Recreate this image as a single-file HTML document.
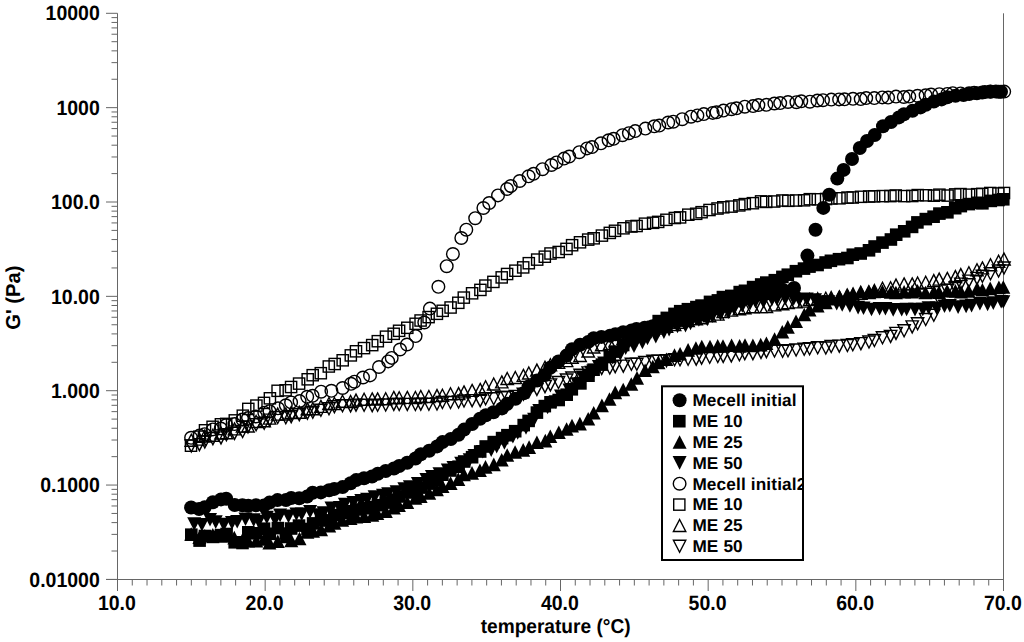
<!DOCTYPE html>
<html><head><meta charset="utf-8"><style>
html,body{margin:0;padding:0;background:#fff;}
svg{display:block;}
</style></head><body>
<svg width="1024" height="642" viewBox="0 0 1024 642">
<rect width="1024" height="642" fill="#fff"/>
<g stroke="#666" stroke-width="1"><line x1="117.5" y1="13.3" x2="117.5" y2="580" /><line x1="1003.5" y1="13.3" x2="1003.5" y2="580" /><line x1="106" y1="579.5" x2="1004" y2="579.5" /><line x1="106" y1="579.40" x2="117.5" y2="579.40" /><line x1="111.5" y1="551.00" x2="117.5" y2="551.00" /><line x1="111.5" y1="534.38" x2="117.5" y2="534.38" /><line x1="111.5" y1="522.60" x2="117.5" y2="522.60" /><line x1="111.5" y1="513.45" x2="117.5" y2="513.45" /><line x1="111.5" y1="505.98" x2="117.5" y2="505.98" /><line x1="111.5" y1="499.66" x2="117.5" y2="499.66" /><line x1="111.5" y1="494.19" x2="117.5" y2="494.19" /><line x1="111.5" y1="489.37" x2="117.5" y2="489.37" /><line x1="106" y1="485.05" x2="117.5" y2="485.05" /><line x1="111.5" y1="456.65" x2="117.5" y2="456.65" /><line x1="111.5" y1="440.03" x2="117.5" y2="440.03" /><line x1="111.5" y1="428.25" x2="117.5" y2="428.25" /><line x1="111.5" y1="419.10" x2="117.5" y2="419.10" /><line x1="111.5" y1="411.63" x2="117.5" y2="411.63" /><line x1="111.5" y1="405.31" x2="117.5" y2="405.31" /><line x1="111.5" y1="399.84" x2="117.5" y2="399.84" /><line x1="111.5" y1="395.02" x2="117.5" y2="395.02" /><line x1="106" y1="390.70" x2="117.5" y2="390.70" /><line x1="111.5" y1="362.30" x2="117.5" y2="362.30" /><line x1="111.5" y1="345.68" x2="117.5" y2="345.68" /><line x1="111.5" y1="333.90" x2="117.5" y2="333.90" /><line x1="111.5" y1="324.75" x2="117.5" y2="324.75" /><line x1="111.5" y1="317.28" x2="117.5" y2="317.28" /><line x1="111.5" y1="310.96" x2="117.5" y2="310.96" /><line x1="111.5" y1="305.49" x2="117.5" y2="305.49" /><line x1="111.5" y1="300.67" x2="117.5" y2="300.67" /><line x1="106" y1="296.35" x2="117.5" y2="296.35" /><line x1="111.5" y1="267.95" x2="117.5" y2="267.95" /><line x1="111.5" y1="251.33" x2="117.5" y2="251.33" /><line x1="111.5" y1="239.55" x2="117.5" y2="239.55" /><line x1="111.5" y1="230.40" x2="117.5" y2="230.40" /><line x1="111.5" y1="222.93" x2="117.5" y2="222.93" /><line x1="111.5" y1="216.61" x2="117.5" y2="216.61" /><line x1="111.5" y1="211.14" x2="117.5" y2="211.14" /><line x1="111.5" y1="206.32" x2="117.5" y2="206.32" /><line x1="106" y1="202.00" x2="117.5" y2="202.00" /><line x1="111.5" y1="173.60" x2="117.5" y2="173.60" /><line x1="111.5" y1="156.98" x2="117.5" y2="156.98" /><line x1="111.5" y1="145.20" x2="117.5" y2="145.20" /><line x1="111.5" y1="136.05" x2="117.5" y2="136.05" /><line x1="111.5" y1="128.58" x2="117.5" y2="128.58" /><line x1="111.5" y1="122.26" x2="117.5" y2="122.26" /><line x1="111.5" y1="116.79" x2="117.5" y2="116.79" /><line x1="111.5" y1="111.97" x2="117.5" y2="111.97" /><line x1="106" y1="107.65" x2="117.5" y2="107.65" /><line x1="111.5" y1="79.25" x2="117.5" y2="79.25" /><line x1="111.5" y1="62.63" x2="117.5" y2="62.63" /><line x1="111.5" y1="50.85" x2="117.5" y2="50.85" /><line x1="111.5" y1="41.70" x2="117.5" y2="41.70" /><line x1="111.5" y1="34.23" x2="117.5" y2="34.23" /><line x1="111.5" y1="27.91" x2="117.5" y2="27.91" /><line x1="111.5" y1="22.44" x2="117.5" y2="22.44" /><line x1="111.5" y1="17.62" x2="117.5" y2="17.62" /><line x1="106" y1="13.30" x2="117.5" y2="13.30" /><line x1="117.50" y1="579.5" x2="117.50" y2="591" /><line x1="132.27" y1="579.5" x2="132.27" y2="585.5" /><line x1="147.03" y1="579.5" x2="147.03" y2="585.5" /><line x1="161.80" y1="579.5" x2="161.80" y2="585.5" /><line x1="176.57" y1="579.5" x2="176.57" y2="585.5" /><line x1="191.33" y1="579.5" x2="191.33" y2="585.5" /><line x1="206.10" y1="579.5" x2="206.10" y2="585.5" /><line x1="220.87" y1="579.5" x2="220.87" y2="585.5" /><line x1="235.63" y1="579.5" x2="235.63" y2="585.5" /><line x1="250.40" y1="579.5" x2="250.40" y2="585.5" /><line x1="265.17" y1="579.5" x2="265.17" y2="591" /><line x1="279.93" y1="579.5" x2="279.93" y2="585.5" /><line x1="294.70" y1="579.5" x2="294.70" y2="585.5" /><line x1="309.47" y1="579.5" x2="309.47" y2="585.5" /><line x1="324.23" y1="579.5" x2="324.23" y2="585.5" /><line x1="339.00" y1="579.5" x2="339.00" y2="585.5" /><line x1="353.77" y1="579.5" x2="353.77" y2="585.5" /><line x1="368.53" y1="579.5" x2="368.53" y2="585.5" /><line x1="383.30" y1="579.5" x2="383.30" y2="585.5" /><line x1="398.07" y1="579.5" x2="398.07" y2="585.5" /><line x1="412.83" y1="579.5" x2="412.83" y2="591" /><line x1="427.60" y1="579.5" x2="427.60" y2="585.5" /><line x1="442.37" y1="579.5" x2="442.37" y2="585.5" /><line x1="457.13" y1="579.5" x2="457.13" y2="585.5" /><line x1="471.90" y1="579.5" x2="471.90" y2="585.5" /><line x1="486.67" y1="579.5" x2="486.67" y2="585.5" /><line x1="501.43" y1="579.5" x2="501.43" y2="585.5" /><line x1="516.20" y1="579.5" x2="516.20" y2="585.5" /><line x1="530.97" y1="579.5" x2="530.97" y2="585.5" /><line x1="545.73" y1="579.5" x2="545.73" y2="585.5" /><line x1="560.50" y1="579.5" x2="560.50" y2="591" /><line x1="575.27" y1="579.5" x2="575.27" y2="585.5" /><line x1="590.03" y1="579.5" x2="590.03" y2="585.5" /><line x1="604.80" y1="579.5" x2="604.80" y2="585.5" /><line x1="619.57" y1="579.5" x2="619.57" y2="585.5" /><line x1="634.33" y1="579.5" x2="634.33" y2="585.5" /><line x1="649.10" y1="579.5" x2="649.10" y2="585.5" /><line x1="663.87" y1="579.5" x2="663.87" y2="585.5" /><line x1="678.63" y1="579.5" x2="678.63" y2="585.5" /><line x1="693.40" y1="579.5" x2="693.40" y2="585.5" /><line x1="708.17" y1="579.5" x2="708.17" y2="591" /><line x1="722.93" y1="579.5" x2="722.93" y2="585.5" /><line x1="737.70" y1="579.5" x2="737.70" y2="585.5" /><line x1="752.47" y1="579.5" x2="752.47" y2="585.5" /><line x1="767.23" y1="579.5" x2="767.23" y2="585.5" /><line x1="782.00" y1="579.5" x2="782.00" y2="585.5" /><line x1="796.77" y1="579.5" x2="796.77" y2="585.5" /><line x1="811.53" y1="579.5" x2="811.53" y2="585.5" /><line x1="826.30" y1="579.5" x2="826.30" y2="585.5" /><line x1="841.07" y1="579.5" x2="841.07" y2="585.5" /><line x1="855.83" y1="579.5" x2="855.83" y2="591" /><line x1="870.60" y1="579.5" x2="870.60" y2="585.5" /><line x1="885.37" y1="579.5" x2="885.37" y2="585.5" /><line x1="900.13" y1="579.5" x2="900.13" y2="585.5" /><line x1="914.90" y1="579.5" x2="914.90" y2="585.5" /><line x1="929.67" y1="579.5" x2="929.67" y2="585.5" /><line x1="944.43" y1="579.5" x2="944.43" y2="585.5" /><line x1="959.20" y1="579.5" x2="959.20" y2="585.5" /><line x1="973.97" y1="579.5" x2="973.97" y2="585.5" /><line x1="988.73" y1="579.5" x2="988.73" y2="585.5" /><line x1="1003.50" y1="579.5" x2="1003.50" y2="591" /></g>
<g fill="#000"><circle cx="191.1" cy="507.5" r="7.0"/><circle cx="199.1" cy="509.1" r="7.0"/><circle cx="204.7" cy="507.3" r="7.0"/><circle cx="212.9" cy="502.2" r="7.0"/><circle cx="221.0" cy="499.4" r="7.0"/><circle cx="226.2" cy="498.7" r="7.0"/><circle cx="234.7" cy="505.0" r="7.0"/><circle cx="242.4" cy="505.2" r="7.0"/><circle cx="248.3" cy="505.7" r="7.0"/><circle cx="256.0" cy="505.2" r="7.0"/><circle cx="263.9" cy="505.6" r="7.0"/><circle cx="269.5" cy="502.6" r="7.0"/><circle cx="277.5" cy="500.1" r="7.0"/><circle cx="286.0" cy="500.0" r="7.0"/><circle cx="291.2" cy="498.0" r="7.0"/><circle cx="299.2" cy="498.3" r="7.0"/><circle cx="307.1" cy="496.6" r="7.0"/><circle cx="312.6" cy="492.8" r="7.0"/><circle cx="320.9" cy="492.4" r="7.0"/><circle cx="329.1" cy="490.2" r="7.0"/><circle cx="334.3" cy="488.9" r="7.0"/><circle cx="342.6" cy="487.1" r="7.0"/><circle cx="350.6" cy="483.3" r="7.0"/><circle cx="356.2" cy="480.1" r="7.0"/><circle cx="364.0" cy="478.2" r="7.0"/><circle cx="372.0" cy="476.5" r="7.0"/><circle cx="377.8" cy="473.7" r="7.0"/><circle cx="385.7" cy="471.0" r="7.0"/><circle cx="393.9" cy="468.5" r="7.0"/><circle cx="399.2" cy="466.0" r="7.0"/><circle cx="407.2" cy="462.8" r="7.0"/><circle cx="415.5" cy="458.5" r="7.0"/><circle cx="420.8" cy="454.3" r="7.0"/><circle cx="429.2" cy="450.7" r="7.0"/><circle cx="437.1" cy="446.4" r="7.0"/><circle cx="442.5" cy="442.1" r="7.0"/><circle cx="450.8" cy="439.0" r="7.0"/><circle cx="458.5" cy="434.7" r="7.0"/><circle cx="464.1" cy="429.6" r="7.0"/><circle cx="472.1" cy="424.0" r="7.0"/><circle cx="480.0" cy="418.8" r="7.0"/><circle cx="485.8" cy="415.2" r="7.0"/><circle cx="493.5" cy="412.2" r="7.0"/><circle cx="502.0" cy="408.4" r="7.0"/><circle cx="507.2" cy="403.7" r="7.0"/><circle cx="515.5" cy="398.7" r="7.0"/><circle cx="523.6" cy="393.3" r="7.0"/><circle cx="528.7" cy="386.5" r="7.0"/><circle cx="537.1" cy="380.5" r="7.0"/><circle cx="544.8" cy="375.0" r="7.0"/><circle cx="550.2" cy="367.8" r="7.0"/><circle cx="558.5" cy="361.5" r="7.0"/><circle cx="566.5" cy="355.6" r="7.0"/><circle cx="572.0" cy="349.3" r="7.0"/><circle cx="580.1" cy="344.8" r="7.0"/><circle cx="588.3" cy="341.9" r="7.0"/><circle cx="593.7" cy="338.2" r="7.0"/><circle cx="601.4" cy="336.9" r="7.0"/><circle cx="610.0" cy="335.7" r="7.0"/><circle cx="615.4" cy="334.2" r="7.0"/><circle cx="623.2" cy="332.2" r="7.0"/><circle cx="631.5" cy="330.4" r="7.0"/><circle cx="636.5" cy="328.9" r="7.0"/><circle cx="644.7" cy="327.7" r="7.0"/><circle cx="652.7" cy="326.3" r="7.0"/><circle cx="658.2" cy="324.2" r="7.0"/><circle cx="666.4" cy="322.6" r="7.0"/><circle cx="674.8" cy="320.7" r="7.0"/><circle cx="679.8" cy="319.7" r="7.0"/><circle cx="688.0" cy="317.6" r="7.0"/><circle cx="696.0" cy="316.0" r="7.0"/><circle cx="701.9" cy="314.5" r="7.0"/><circle cx="709.7" cy="311.5" r="7.0"/><circle cx="717.6" cy="308.4" r="7.0"/><circle cx="723.1" cy="306.1" r="7.0"/><circle cx="731.1" cy="304.1" r="7.0"/><circle cx="739.7" cy="300.6" r="7.0"/><circle cx="744.6" cy="298.6" r="7.0"/><circle cx="752.6" cy="296.4" r="7.0"/><circle cx="761.3" cy="294.8" r="7.0"/><circle cx="766.5" cy="293.5" r="7.0"/><circle cx="774.4" cy="291.3" r="7.0"/><circle cx="782.8" cy="289.8" r="7.0"/><circle cx="794.0" cy="288.0" r="7.0"/><circle cx="807.4" cy="255.6" r="7.0"/><circle cx="815.5" cy="229.8" r="7.0"/><circle cx="823.3" cy="207.9" r="7.0"/><circle cx="829.2" cy="194.8" r="7.0"/><circle cx="837.3" cy="178.6" r="7.0"/><circle cx="843.6" cy="169.9" r="7.0"/><circle cx="852.0" cy="159.0" r="7.0"/><circle cx="859.8" cy="148.0" r="7.0"/><circle cx="867.0" cy="141.0" r="7.0"/><circle cx="874.7" cy="135.0" r="7.0"/><circle cx="883.0" cy="126.2" r="7.0"/><circle cx="891.0" cy="122.0" r="7.0"/><circle cx="898.9" cy="117.4" r="7.0"/><circle cx="903.9" cy="114.3" r="7.0"/><circle cx="912.5" cy="110.8" r="7.0"/><circle cx="920.5" cy="107.4" r="7.0"/><circle cx="925.8" cy="104.8" r="7.0"/><circle cx="933.8" cy="101.6" r="7.0"/><circle cx="941.6" cy="99.4" r="7.0"/><circle cx="947.2" cy="97.2" r="7.0"/><circle cx="955.5" cy="95.8" r="7.0"/><circle cx="963.5" cy="95.1" r="7.0"/><circle cx="969.2" cy="94.0" r="7.0"/><circle cx="976.9" cy="93.3" r="7.0"/><circle cx="984.9" cy="92.0" r="7.0"/><circle cx="990.3" cy="91.6" r="7.0"/><circle cx="998.8" cy="91.8" r="7.0"/><circle cx="1001.0" cy="91.8" r="7.0"/><rect x="185.0" y="528.4" width="12.6" height="12.6"/><rect x="193.3" y="534.3" width="12.6" height="12.6"/><rect x="198.6" y="529.7" width="12.6" height="12.6"/><rect x="206.8" y="530.6" width="12.6" height="12.6"/><rect x="214.7" y="528.8" width="12.6" height="12.6"/><rect x="220.3" y="527.7" width="12.6" height="12.6"/><rect x="228.4" y="536.0" width="12.6" height="12.6"/><rect x="236.2" y="536.7" width="12.6" height="12.6"/><rect x="242.0" y="526.0" width="12.6" height="12.6"/><rect x="249.6" y="527.0" width="12.6" height="12.6"/><rect x="257.7" y="522.4" width="12.6" height="12.6"/><rect x="263.5" y="527.5" width="12.6" height="12.6"/><rect x="271.6" y="521.8" width="12.6" height="12.6"/><rect x="279.6" y="527.3" width="12.6" height="12.6"/><rect x="284.9" y="522.2" width="12.6" height="12.6"/><rect x="292.7" y="519.3" width="12.6" height="12.6"/><rect x="301.2" y="522.7" width="12.6" height="12.6"/><rect x="306.8" y="517.1" width="12.6" height="12.6"/><rect x="314.8" y="513.9" width="12.6" height="12.6"/><rect x="322.5" y="514.1" width="12.6" height="12.6"/><rect x="328.0" y="508.8" width="12.6" height="12.6"/><rect x="336.3" y="506.6" width="12.6" height="12.6"/><rect x="344.3" y="505.0" width="12.6" height="12.6"/><rect x="349.9" y="503.2" width="12.6" height="12.6"/><rect x="357.8" y="502.0" width="12.6" height="12.6"/><rect x="366.1" y="500.8" width="12.6" height="12.6"/><rect x="371.6" y="498.9" width="12.6" height="12.6"/><rect x="379.4" y="496.3" width="12.6" height="12.6"/><rect x="387.2" y="493.4" width="12.6" height="12.6"/><rect x="392.7" y="490.2" width="12.6" height="12.6"/><rect x="401.2" y="486.2" width="12.6" height="12.6"/><rect x="409.1" y="483.4" width="12.6" height="12.6"/><rect x="414.5" y="481.3" width="12.6" height="12.6"/><rect x="422.6" y="477.3" width="12.6" height="12.6"/><rect x="430.9" y="473.7" width="12.6" height="12.6"/><rect x="436.1" y="468.4" width="12.6" height="12.6"/><rect x="444.1" y="464.2" width="12.6" height="12.6"/><rect x="452.3" y="460.4" width="12.6" height="12.6"/><rect x="457.9" y="455.2" width="12.6" height="12.6"/><rect x="465.8" y="450.9" width="12.6" height="12.6"/><rect x="473.9" y="445.2" width="12.6" height="12.6"/><rect x="479.4" y="440.2" width="12.6" height="12.6"/><rect x="487.4" y="435.8" width="12.6" height="12.6"/><rect x="495.8" y="431.8" width="12.6" height="12.6"/><rect x="501.1" y="428.9" width="12.6" height="12.6"/><rect x="508.9" y="424.9" width="12.6" height="12.6"/><rect x="517.4" y="418.8" width="12.6" height="12.6"/><rect x="522.3" y="414.6" width="12.6" height="12.6"/><rect x="530.6" y="406.3" width="12.6" height="12.6"/><rect x="538.5" y="399.8" width="12.6" height="12.6"/><rect x="544.2" y="396.0" width="12.6" height="12.6"/><rect x="552.4" y="393.7" width="12.6" height="12.6"/><rect x="560.4" y="388.4" width="12.6" height="12.6"/><rect x="565.5" y="383.0" width="12.6" height="12.6"/><rect x="574.1" y="377.1" width="12.6" height="12.6"/><rect x="582.2" y="369.4" width="12.6" height="12.6"/><rect x="587.3" y="363.4" width="12.6" height="12.6"/><rect x="595.6" y="358.3" width="12.6" height="12.6"/><rect x="603.5" y="350.6" width="12.6" height="12.6"/><rect x="608.8" y="345.3" width="12.6" height="12.6"/><rect x="616.9" y="338.7" width="12.6" height="12.6"/><rect x="624.8" y="333.8" width="12.6" height="12.6"/><rect x="630.5" y="329.2" width="12.6" height="12.6"/><rect x="638.5" y="323.8" width="12.6" height="12.6"/><rect x="646.7" y="320.6" width="12.6" height="12.6"/><rect x="652.4" y="314.8" width="12.6" height="12.6"/><rect x="660.5" y="311.6" width="12.6" height="12.6"/><rect x="668.2" y="307.6" width="12.6" height="12.6"/><rect x="673.9" y="304.9" width="12.6" height="12.6"/><rect x="681.6" y="302.9" width="12.6" height="12.6"/><rect x="690.1" y="300.8" width="12.6" height="12.6"/><rect x="695.2" y="299.3" width="12.6" height="12.6"/><rect x="703.7" y="295.6" width="12.6" height="12.6"/><rect x="711.6" y="294.1" width="12.6" height="12.6"/><rect x="716.6" y="290.8" width="12.6" height="12.6"/><rect x="725.0" y="289.6" width="12.6" height="12.6"/><rect x="733.4" y="285.8" width="12.6" height="12.6"/><rect x="738.7" y="284.5" width="12.6" height="12.6"/><rect x="746.8" y="280.8" width="12.6" height="12.6"/><rect x="754.9" y="278.2" width="12.6" height="12.6"/><rect x="760.0" y="276.3" width="12.6" height="12.6"/><rect x="768.5" y="273.9" width="12.6" height="12.6"/><rect x="776.1" y="270.6" width="12.6" height="12.6"/><rect x="781.5" y="268.4" width="12.6" height="12.6"/><rect x="789.6" y="264.9" width="12.6" height="12.6"/><rect x="797.7" y="262.3" width="12.6" height="12.6"/><rect x="803.2" y="260.3" width="12.6" height="12.6"/><rect x="811.3" y="258.7" width="12.6" height="12.6"/><rect x="819.3" y="256.2" width="12.6" height="12.6"/><rect x="824.6" y="254.5" width="12.6" height="12.6"/><rect x="832.7" y="252.9" width="12.6" height="12.6"/><rect x="841.1" y="251.7" width="12.6" height="12.6"/><rect x="846.5" y="248.4" width="12.6" height="12.6"/><rect x="854.4" y="247.2" width="12.6" height="12.6"/><rect x="862.7" y="244.0" width="12.6" height="12.6"/><rect x="868.3" y="240.2" width="12.6" height="12.6"/><rect x="876.2" y="236.3" width="12.6" height="12.6"/><rect x="884.6" y="233.2" width="12.6" height="12.6"/><rect x="889.9" y="228.4" width="12.6" height="12.6"/><rect x="897.9" y="225.0" width="12.6" height="12.6"/><rect x="905.8" y="220.6" width="12.6" height="12.6"/><rect x="911.1" y="216.1" width="12.6" height="12.6"/><rect x="919.5" y="212.8" width="12.6" height="12.6"/><rect x="927.3" y="210.4" width="12.6" height="12.6"/><rect x="933.1" y="207.3" width="12.6" height="12.6"/><rect x="941.1" y="206.0" width="12.6" height="12.6"/><rect x="948.9" y="201.9" width="12.6" height="12.6"/><rect x="954.5" y="199.8" width="12.6" height="12.6"/><rect x="962.6" y="197.8" width="12.6" height="12.6"/><rect x="971.0" y="196.5" width="12.6" height="12.6"/><rect x="976.1" y="197.0" width="12.6" height="12.6"/><rect x="984.5" y="194.6" width="12.6" height="12.6"/><rect x="992.2" y="193.7" width="12.6" height="12.6"/><rect x="997.0" y="193.0" width="12.6" height="12.6"/><polygon points="191.2,527.2 198.2,540.8 184.2,540.8"/><polygon points="199.4,530.4 206.4,544.0 192.4,544.0"/><polygon points="204.8,529.0 211.8,542.6 197.8,542.6"/><polygon points="212.8,528.1 219.8,541.7 205.8,541.7"/><polygon points="220.9,528.9 227.9,542.5 213.9,542.5"/><polygon points="226.1,528.9 233.1,542.5 219.1,542.5"/><polygon points="234.3,530.8 241.3,544.4 227.3,544.4"/><polygon points="242.6,532.8 249.6,546.4 235.6,546.4"/><polygon points="248.1,533.9 255.1,547.5 241.1,547.5"/><polygon points="256.3,533.9 263.3,547.5 249.3,547.5"/><polygon points="264.1,532.1 271.1,545.7 257.1,545.7"/><polygon points="269.4,535.9 276.4,549.5 262.4,549.5"/><polygon points="277.8,534.5 284.8,548.1 270.8,548.1"/><polygon points="286.0,529.7 293.0,543.3 279.0,543.3"/><polygon points="291.3,533.7 298.3,547.3 284.3,547.3"/><polygon points="299.5,531.7 306.5,545.3 292.5,545.3"/><polygon points="307.4,525.1 314.4,538.7 300.4,538.7"/><polygon points="313.0,524.1 320.0,537.7 306.0,537.7"/><polygon points="321.1,522.7 328.1,536.3 314.1,536.3"/><polygon points="329.2,518.9 336.2,532.5 322.2,532.5"/><polygon points="334.5,516.2 341.5,529.8 327.5,529.8"/><polygon points="342.2,513.2 349.2,526.8 335.2,526.8"/><polygon points="350.5,511.5 357.5,525.1 343.5,525.1"/><polygon points="356.2,510.0 363.2,523.6 349.2,523.6"/><polygon points="364.2,509.5 371.2,523.1 357.2,523.1"/><polygon points="372.3,508.2 379.3,521.8 365.3,521.8"/><polygon points="377.3,506.5 384.3,520.1 370.3,520.1"/><polygon points="385.8,504.5 392.8,518.1 378.8,518.1"/><polygon points="393.8,500.9 400.8,514.5 386.8,514.5"/><polygon points="398.9,498.3 405.9,511.9 391.9,511.9"/><polygon points="407.2,495.5 414.2,509.1 400.2,509.1"/><polygon points="415.3,491.1 422.3,504.7 408.3,504.7"/><polygon points="420.6,489.3 427.6,502.9 413.6,502.9"/><polygon points="429.2,486.2 436.2,499.8 422.2,499.8"/><polygon points="436.9,482.6 443.9,496.2 429.9,496.2"/><polygon points="442.5,479.5 449.5,493.1 435.5,493.1"/><polygon points="450.6,476.3 457.6,489.9 443.6,489.9"/><polygon points="458.3,472.3 465.3,485.9 451.3,485.9"/><polygon points="463.9,467.6 470.9,481.2 456.9,481.2"/><polygon points="472.0,466.1 479.0,479.7 465.0,479.7"/><polygon points="479.9,463.4 486.9,477.0 472.9,477.0"/><polygon points="485.5,460.1 492.5,473.7 478.5,473.7"/><polygon points="493.8,457.6 500.8,471.2 486.8,471.2"/><polygon points="501.7,453.0 508.7,466.6 494.7,466.6"/><polygon points="507.2,448.2 514.2,461.8 500.2,461.8"/><polygon points="515.1,445.2 522.1,458.8 508.1,458.8"/><polygon points="523.2,443.1 530.2,456.7 516.2,456.7"/><polygon points="529.1,440.3 536.1,453.9 522.1,453.9"/><polygon points="536.9,435.4 543.9,449.0 529.9,449.0"/><polygon points="545.3,433.8 552.3,447.4 538.3,447.4"/><polygon points="550.3,429.4 557.3,443.0 543.3,443.0"/><polygon points="558.8,425.4 565.8,439.0 551.8,439.0"/><polygon points="566.6,422.2 573.6,435.8 559.6,435.8"/><polygon points="572.0,418.8 579.0,432.4 565.0,432.4"/><polygon points="579.9,416.8 586.9,430.4 572.9,430.4"/><polygon points="588.2,411.9 595.2,425.5 581.2,425.5"/><polygon points="593.7,406.0 600.7,419.6 586.7,419.6"/><polygon points="601.9,398.6 608.9,412.2 594.9,412.2"/><polygon points="609.5,392.2 616.5,405.8 602.5,405.8"/><polygon points="615.2,385.6 622.2,399.2 608.2,399.2"/><polygon points="623.2,382.7 630.2,396.3 616.2,396.3"/><polygon points="631.3,377.2 638.3,390.8 624.3,390.8"/><polygon points="637.0,371.1 644.0,384.7 630.0,384.7"/><polygon points="645.1,363.5 652.1,377.1 638.1,377.1"/><polygon points="652.8,359.7 659.8,373.3 645.8,373.3"/><polygon points="658.5,355.7 665.5,369.3 651.5,369.3"/><polygon points="666.4,352.5 673.4,366.1 659.4,366.1"/><polygon points="674.5,348.3 681.5,361.9 667.5,361.9"/><polygon points="680.1,347.0 687.1,360.6 673.1,360.6"/><polygon points="688.1,343.1 695.1,356.7 681.1,356.7"/><polygon points="695.9,341.2 702.9,354.8 688.9,354.8"/><polygon points="701.8,339.7 708.8,353.3 694.8,353.3"/><polygon points="710.0,339.7 717.0,353.3 703.0,353.3"/><polygon points="717.7,339.1 724.7,352.7 710.7,352.7"/><polygon points="723.0,339.2 730.0,352.8 716.0,352.8"/><polygon points="731.6,338.5 738.6,352.1 724.6,352.1"/><polygon points="739.6,339.1 746.6,352.7 732.6,352.7"/><polygon points="745.0,338.2 752.0,351.8 738.0,351.8"/><polygon points="752.9,338.6 759.9,352.2 745.9,352.2"/><polygon points="760.7,337.8 767.7,351.4 753.7,351.4"/><polygon points="766.4,336.5 773.4,350.1 759.4,350.1"/><polygon points="774.6,332.2 781.6,345.8 767.6,345.8"/><polygon points="782.3,325.0 789.3,338.6 775.3,338.6"/><polygon points="787.8,320.1 794.8,333.7 780.8,333.7"/><polygon points="796.0,314.5 803.0,328.1 789.0,328.1"/><polygon points="804.3,307.7 811.3,321.3 797.3,321.3"/><polygon points="809.5,302.9 816.5,316.5 802.5,316.5"/><polygon points="817.6,299.0 824.6,312.6 810.6,312.6"/><polygon points="825.7,295.6 832.7,309.2 818.7,309.2"/><polygon points="831.0,291.8 838.0,305.4 824.0,305.4"/><polygon points="839.5,289.4 846.5,303.0 832.5,303.0"/><polygon points="847.2,287.4 854.2,301.0 840.2,301.0"/><polygon points="853.1,286.6 860.1,300.2 846.1,300.2"/><polygon points="860.7,284.7 867.7,298.3 853.7,298.3"/><polygon points="868.8,284.2 875.8,297.8 861.8,297.8"/><polygon points="874.2,284.6 881.2,298.2 867.2,298.2"/><polygon points="882.4,284.4 889.4,298.0 875.4,298.0"/><polygon points="890.8,285.2 897.8,298.8 883.8,298.8"/><polygon points="895.9,285.7 902.9,299.3 888.9,299.3"/><polygon points="904.1,285.0 911.1,298.6 897.1,298.6"/><polygon points="912.1,284.8 919.1,298.4 905.1,298.4"/><polygon points="917.5,284.0 924.5,297.6 910.5,297.6"/><polygon points="925.5,285.7 932.5,299.3 918.5,299.3"/><polygon points="933.9,284.7 940.9,298.3 926.9,298.3"/><polygon points="939.0,285.3 946.0,298.9 932.0,298.9"/><polygon points="947.1,284.0 954.1,297.6 940.1,297.6"/><polygon points="955.4,284.1 962.4,297.7 948.4,297.7"/><polygon points="961.0,285.0 968.0,298.6 954.0,298.6"/><polygon points="968.6,284.1 975.6,297.7 961.6,297.7"/><polygon points="977.1,281.8 984.1,295.4 970.1,295.4"/><polygon points="982.4,282.9 989.4,296.5 975.4,296.5"/><polygon points="990.2,281.6 997.2,295.2 983.2,295.2"/><polygon points="998.9,280.6 1005.9,294.2 991.9,294.2"/><polygon points="1003.3,280.2 1010.3,293.8 996.3,293.8"/><polygon points="187.2,517.2 201.2,517.2 194.2,530.8"/><polygon points="194.9,518.0 208.9,518.0 201.9,531.6"/><polygon points="203.0,512.9 217.0,512.9 210.0,526.5"/><polygon points="208.7,515.3 222.7,515.3 215.7,528.9"/><polygon points="216.8,517.8 230.8,517.8 223.8,531.4"/><polygon points="225.0,516.1 239.0,516.1 232.0,529.7"/><polygon points="230.2,514.9 244.2,514.9 237.2,528.5"/><polygon points="238.5,512.4 252.5,512.4 245.5,526.0"/><polygon points="246.7,513.3 260.7,513.3 253.7,526.9"/><polygon points="251.7,514.8 265.7,514.8 258.7,528.4"/><polygon points="259.8,510.7 273.8,510.7 266.8,524.3"/><polygon points="268.1,512.8 282.1,512.8 275.1,526.4"/><polygon points="273.1,508.6 287.1,508.6 280.1,522.2"/><polygon points="281.5,509.6 295.5,509.6 288.5,523.2"/><polygon points="289.4,507.4 303.4,507.4 296.4,521.0"/><polygon points="294.7,507.5 308.7,507.5 301.7,521.1"/><polygon points="303.1,505.0 317.1,505.0 310.1,518.6"/><polygon points="311.3,508.2 325.3,508.2 318.3,521.8"/><polygon points="316.6,506.3 330.6,506.3 323.6,519.9"/><polygon points="324.5,501.5 338.5,501.5 331.5,515.1"/><polygon points="332.9,501.0 346.9,501.0 339.9,514.6"/><polygon points="337.9,497.7 351.9,497.7 344.9,511.3"/><polygon points="346.4,496.1 360.4,496.1 353.4,509.7"/><polygon points="354.3,493.9 368.3,493.9 361.3,507.5"/><polygon points="360.1,492.8 374.1,492.8 367.1,506.4"/><polygon points="367.6,490.3 381.6,490.3 374.6,503.9"/><polygon points="376.0,488.8 390.0,488.8 383.0,502.4"/><polygon points="381.2,487.2 395.2,487.2 388.2,500.8"/><polygon points="389.6,485.2 403.6,485.2 396.6,498.8"/><polygon points="397.4,482.3 411.4,482.3 404.4,495.9"/><polygon points="402.9,480.3 416.9,480.3 409.9,493.9"/><polygon points="410.9,477.1 424.9,477.1 417.9,490.7"/><polygon points="419.4,473.0 433.4,473.0 426.4,486.6"/><polygon points="424.9,470.1 438.9,470.1 431.9,483.7"/><polygon points="432.5,467.2 446.5,467.2 439.5,480.8"/><polygon points="440.8,463.4 454.8,463.4 447.8,477.0"/><polygon points="446.5,461.0 460.5,461.0 453.5,474.6"/><polygon points="454.2,456.7 468.2,456.7 461.2,470.3"/><polygon points="462.7,453.2 476.7,453.2 469.7,466.8"/><polygon points="467.5,449.0 481.5,449.0 474.5,462.6"/><polygon points="475.8,444.9 489.8,444.9 482.8,458.5"/><polygon points="484.2,443.3 498.2,443.3 491.2,456.9"/><polygon points="489.7,439.8 503.7,439.8 496.7,453.4"/><polygon points="497.4,436.1 511.4,436.1 504.4,449.7"/><polygon points="505.9,429.8 519.9,429.8 512.9,443.4"/><polygon points="510.7,426.1 524.7,426.1 517.7,439.7"/><polygon points="519.0,421.1 533.0,421.1 526.0,434.7"/><polygon points="527.1,412.7 541.1,412.7 534.1,426.3"/><polygon points="532.3,404.1 546.3,404.1 539.3,417.7"/><polygon points="540.6,400.6 554.6,400.6 547.6,414.2"/><polygon points="548.6,395.2 562.6,395.2 555.6,408.8"/><polygon points="554.0,389.6 568.0,389.6 561.0,403.2"/><polygon points="562.5,383.5 576.5,383.5 569.5,397.1"/><polygon points="570.4,377.2 584.4,377.2 577.4,390.8"/><polygon points="575.8,370.4 589.8,370.4 582.8,384.0"/><polygon points="584.2,365.7 598.2,365.7 591.2,379.3"/><polygon points="591.9,360.0 605.9,360.0 598.9,373.6"/><polygon points="597.1,356.6 611.1,356.6 604.1,370.2"/><polygon points="605.7,351.0 619.7,351.0 612.7,364.6"/><polygon points="613.3,347.1 627.3,347.1 620.3,360.7"/><polygon points="618.7,341.3 632.7,341.3 625.7,354.9"/><polygon points="627.0,339.5 641.0,339.5 634.0,353.1"/><polygon points="635.4,335.6 649.4,335.6 642.4,349.2"/><polygon points="640.5,331.7 654.5,331.7 647.5,345.3"/><polygon points="648.8,329.8 662.8,329.8 655.8,343.4"/><polygon points="656.9,325.3 670.9,325.3 663.9,338.9"/><polygon points="662.1,322.8 676.1,322.8 669.1,336.4"/><polygon points="670.5,319.7 684.5,319.7 677.5,333.3"/><polygon points="678.5,319.0 692.5,319.0 685.5,332.6"/><polygon points="683.5,316.6 697.5,316.6 690.5,330.2"/><polygon points="691.9,313.1 705.9,313.1 698.9,326.7"/><polygon points="700.3,312.6 714.3,312.6 707.3,326.2"/><polygon points="705.3,309.4 719.3,309.4 712.3,323.0"/><polygon points="713.5,307.3 727.5,307.3 720.5,320.9"/><polygon points="721.4,305.3 735.4,305.3 728.4,318.9"/><polygon points="727.1,302.0 741.1,302.0 734.1,315.6"/><polygon points="735.3,299.1 749.3,299.1 742.3,312.7"/><polygon points="743.1,296.7 757.1,296.7 750.1,310.3"/><polygon points="748.5,295.0 762.5,295.0 755.5,308.6"/><polygon points="756.4,294.8 770.4,294.8 763.4,308.4"/><polygon points="765.0,292.6 779.0,292.6 772.0,306.2"/><polygon points="769.9,292.4 783.9,292.4 776.9,306.0"/><polygon points="778.3,291.8 792.3,291.8 785.3,305.4"/><polygon points="786.7,292.1 800.7,292.1 793.7,305.7"/><polygon points="792.1,293.0 806.1,293.0 799.1,306.6"/><polygon points="799.7,292.6 813.7,292.6 806.7,306.2"/><polygon points="808.0,293.2 822.0,293.2 815.0,306.8"/><polygon points="813.4,295.3 827.4,295.3 820.4,308.9"/><polygon points="821.5,295.2 835.5,295.2 828.5,308.8"/><polygon points="829.7,296.9 843.7,296.9 836.7,310.5"/><polygon points="835.2,298.2 849.2,298.2 842.2,311.8"/><polygon points="842.9,299.2 856.9,299.2 849.9,312.8"/><polygon points="851.1,300.8 865.1,300.8 858.1,314.4"/><polygon points="856.5,301.4 870.5,301.4 863.5,315.0"/><polygon points="864.5,302.7 878.5,302.7 871.5,316.3"/><polygon points="872.6,302.0 886.6,302.0 879.6,315.6"/><polygon points="878.4,302.0 892.4,302.0 885.4,315.6"/><polygon points="886.2,303.1 900.2,303.1 893.2,316.7"/><polygon points="894.7,303.0 908.7,303.0 901.7,316.6"/><polygon points="899.6,302.7 913.6,302.7 906.6,316.3"/><polygon points="908.0,302.8 922.0,302.8 915.0,316.4"/><polygon points="915.8,302.7 929.8,302.7 922.8,316.3"/><polygon points="921.6,301.2 935.6,301.2 928.6,314.8"/><polygon points="929.7,301.4 943.7,301.4 936.7,315.0"/><polygon points="937.5,299.4 951.5,299.4 944.5,313.0"/><polygon points="942.8,299.0 956.8,299.0 949.8,312.6"/><polygon points="951.1,300.3 965.1,300.3 958.1,313.9"/><polygon points="959.1,299.6 973.1,299.6 966.1,313.2"/><polygon points="964.6,298.8 978.6,298.8 971.6,312.4"/><polygon points="972.9,296.9 986.9,296.9 979.9,310.5"/><polygon points="980.6,297.6 994.6,297.6 987.6,311.2"/><polygon points="986.3,296.3 1000.3,296.3 993.3,309.9"/><polygon points="994.2,294.9 1008.2,294.9 1001.2,308.5"/><polygon points="996.3,295.2 1010.3,295.2 1003.3,308.8"/></g>
<g fill="none" stroke="#000" stroke-width="1.4" stroke-linejoin="miter"><circle cx="191.1" cy="437.8" r="6.30"/><circle cx="199.5" cy="435.6" r="6.30"/><circle cx="204.6" cy="434.2" r="6.30"/><circle cx="212.8" cy="429.4" r="6.30"/><circle cx="220.8" cy="428.5" r="6.30"/><circle cx="226.2" cy="425.0" r="6.30"/><circle cx="234.5" cy="424.1" r="6.30"/><circle cx="242.4" cy="419.5" r="6.30"/><circle cx="248.0" cy="418.1" r="6.30"/><circle cx="255.9" cy="416.5" r="6.30"/><circle cx="264.3" cy="412.7" r="6.30"/><circle cx="269.5" cy="411.2" r="6.30"/><circle cx="278.0" cy="408.3" r="6.30"/><circle cx="285.8" cy="405.3" r="6.30"/><circle cx="291.1" cy="402.4" r="6.30"/><circle cx="299.6" cy="401.1" r="6.30"/><circle cx="307.2" cy="396.8" r="6.30"/><circle cx="312.6" cy="395.8" r="6.30"/><circle cx="321.1" cy="391.7" r="6.30"/><circle cx="331.4" cy="390.8" r="6.30"/><circle cx="342.6" cy="388.0" r="6.30"/><circle cx="351.0" cy="383.8" r="6.30"/><circle cx="354.5" cy="381.7" r="6.30"/><circle cx="363.0" cy="377.5" r="6.30"/><circle cx="370.0" cy="375.4" r="6.30"/><circle cx="379.0" cy="367.0" r="6.30"/><circle cx="388.2" cy="361.4" r="6.30"/><circle cx="391.7" cy="357.9" r="6.30"/><circle cx="400.0" cy="349.5" r="6.30"/><circle cx="407.0" cy="344.5" r="6.30"/><circle cx="415.6" cy="336.1" r="6.30"/><circle cx="424.3" cy="322.5" r="6.30"/><circle cx="429.9" cy="308.6" r="6.30"/><circle cx="438.4" cy="286.8" r="6.30"/><circle cx="446.7" cy="266.2" r="6.30"/><circle cx="452.9" cy="254.0" r="6.30"/><circle cx="461.3" cy="238.0" r="6.30"/><circle cx="466.3" cy="229.7" r="6.30"/><circle cx="475.2" cy="218.2" r="6.30"/><circle cx="483.4" cy="208.0" r="6.30"/><circle cx="489.2" cy="203.0" r="6.30"/><circle cx="498.0" cy="195.4" r="6.30"/><circle cx="507.0" cy="189.0" r="6.30"/><circle cx="510.8" cy="186.0" r="6.30"/><circle cx="519.7" cy="181.0" r="6.30"/><circle cx="528.6" cy="176.3" r="6.30"/><circle cx="533.6" cy="173.8" r="6.30"/><circle cx="542.5" cy="169.2" r="6.30"/><circle cx="551.4" cy="165.0" r="6.30"/><circle cx="556.5" cy="162.4" r="6.30"/><circle cx="564.0" cy="158.6" r="6.30"/><circle cx="569.2" cy="156.5" r="6.30"/><circle cx="579.3" cy="152.2" r="6.30"/><circle cx="587.0" cy="148.4" r="6.30"/><circle cx="592.0" cy="147.1" r="6.30"/><circle cx="601.0" cy="143.3" r="6.30"/><circle cx="608.6" cy="140.3" r="6.30"/><circle cx="613.6" cy="138.8" r="6.30"/><circle cx="622.5" cy="135.2" r="6.30"/><circle cx="628.9" cy="133.2" r="6.30"/><circle cx="635.2" cy="131.1" r="6.30"/><circle cx="645.4" cy="128.6" r="6.30"/><circle cx="654.3" cy="126.3" r="6.30"/><circle cx="659.3" cy="125.6" r="6.30"/><circle cx="668.2" cy="122.5" r="6.30"/><circle cx="673.3" cy="121.7" r="6.30"/><circle cx="682.2" cy="119.2" r="6.30"/><circle cx="691.0" cy="116.7" r="6.30"/><circle cx="697.4" cy="115.4" r="6.30"/><circle cx="703.8" cy="114.1" r="6.30"/><circle cx="712.7" cy="112.9" r="6.30"/><circle cx="716.5" cy="112.3" r="6.30"/><circle cx="723.4" cy="110.6" r="6.30"/><circle cx="731.5" cy="109.2" r="6.30"/><circle cx="736.5" cy="108.3" r="6.30"/><circle cx="744.8" cy="106.7" r="6.30"/><circle cx="753.1" cy="106.1" r="6.30"/><circle cx="758.4" cy="105.1" r="6.30"/><circle cx="766.4" cy="104.8" r="6.30"/><circle cx="774.4" cy="103.5" r="6.30"/><circle cx="780.2" cy="103.1" r="6.30"/><circle cx="788.0" cy="102.0" r="6.30"/><circle cx="796.4" cy="102.2" r="6.30"/><circle cx="801.3" cy="101.3" r="6.30"/><circle cx="809.9" cy="101.7" r="6.30"/><circle cx="817.4" cy="100.5" r="6.30"/><circle cx="823.0" cy="100.2" r="6.30"/><circle cx="831.3" cy="99.6" r="6.30"/><circle cx="839.1" cy="99.4" r="6.30"/><circle cx="844.5" cy="99.3" r="6.30"/><circle cx="853.0" cy="98.8" r="6.30"/><circle cx="860.7" cy="99.1" r="6.30"/><circle cx="866.2" cy="98.1" r="6.30"/><circle cx="874.3" cy="98.1" r="6.30"/><circle cx="882.3" cy="97.4" r="6.30"/><circle cx="888.1" cy="97.6" r="6.30"/><circle cx="896.0" cy="96.6" r="6.30"/><circle cx="903.8" cy="97.0" r="6.30"/><circle cx="909.3" cy="96.6" r="6.30"/><circle cx="917.6" cy="95.8" r="6.30"/><circle cx="925.6" cy="95.3" r="6.30"/><circle cx="931.1" cy="94.5" r="6.30"/><circle cx="939.3" cy="94.2" r="6.30"/><circle cx="947.3" cy="93.9" r="6.30"/><circle cx="952.8" cy="93.2" r="6.30"/><circle cx="960.6" cy="93.4" r="6.30"/><circle cx="969.1" cy="93.3" r="6.30"/><circle cx="974.1" cy="92.7" r="6.30"/><circle cx="982.2" cy="92.5" r="6.30"/><circle cx="990.5" cy="91.8" r="6.30"/><circle cx="995.9" cy="91.5" r="6.30"/><circle cx="1004.2" cy="91.6" r="6.30"/><rect x="185.4" y="440.1" width="11.2" height="11.2"/><rect x="193.5" y="431.1" width="11.2" height="11.2"/><rect x="199.4" y="424.7" width="11.2" height="11.2"/><rect x="207.0" y="421.2" width="11.2" height="11.2"/><rect x="215.3" y="418.7" width="11.2" height="11.2"/><rect x="220.6" y="418.3" width="11.2" height="11.2"/><rect x="229.2" y="414.8" width="11.2" height="11.2"/><rect x="237.2" y="410.1" width="11.2" height="11.2"/><rect x="242.7" y="403.3" width="11.2" height="11.2"/><rect x="250.8" y="400.0" width="11.2" height="11.2"/><rect x="258.4" y="397.3" width="11.2" height="11.2"/><rect x="264.3" y="392.7" width="11.2" height="11.2"/><rect x="272.0" y="385.2" width="11.2" height="11.2"/><rect x="280.0" y="384.7" width="11.2" height="11.2"/><rect x="285.5" y="381.4" width="11.2" height="11.2"/><rect x="293.5" y="378.0" width="11.2" height="11.2"/><rect x="302.1" y="373.7" width="11.2" height="11.2"/><rect x="307.1" y="369.6" width="11.2" height="11.2"/><rect x="315.2" y="367.6" width="11.2" height="11.2"/><rect x="323.2" y="360.9" width="11.2" height="11.2"/><rect x="329.1" y="358.4" width="11.2" height="11.2"/><rect x="337.1" y="354.7" width="11.2" height="11.2"/><rect x="345.2" y="349.8" width="11.2" height="11.2"/><rect x="350.4" y="345.7" width="11.2" height="11.2"/><rect x="358.4" y="342.5" width="11.2" height="11.2"/><rect x="366.6" y="339.5" width="11.2" height="11.2"/><rect x="372.2" y="335.6" width="11.2" height="11.2"/><rect x="380.4" y="331.1" width="11.2" height="11.2"/><rect x="388.1" y="328.2" width="11.2" height="11.2"/><rect x="393.5" y="325.2" width="11.2" height="11.2"/><rect x="401.7" y="322.2" width="11.2" height="11.2"/><rect x="410.0" y="318.2" width="11.2" height="11.2"/><rect x="415.0" y="314.9" width="11.2" height="11.2"/><rect x="423.0" y="311.5" width="11.2" height="11.2"/><rect x="431.3" y="308.2" width="11.2" height="11.2"/><rect x="437.1" y="305.2" width="11.2" height="11.2"/><rect x="445.0" y="301.9" width="11.2" height="11.2"/><rect x="452.7" y="297.2" width="11.2" height="11.2"/><rect x="458.2" y="292.0" width="11.2" height="11.2"/><rect x="466.5" y="287.7" width="11.2" height="11.2"/><rect x="474.8" y="284.3" width="11.2" height="11.2"/><rect x="479.8" y="280.0" width="11.2" height="11.2"/><rect x="487.8" y="276.3" width="11.2" height="11.2"/><rect x="496.1" y="271.8" width="11.2" height="11.2"/><rect x="501.5" y="268.4" width="11.2" height="11.2"/><rect x="509.8" y="265.1" width="11.2" height="11.2"/><rect x="517.6" y="261.8" width="11.2" height="11.2"/><rect x="523.2" y="257.6" width="11.2" height="11.2"/><rect x="531.6" y="254.0" width="11.2" height="11.2"/><rect x="539.2" y="251.1" width="11.2" height="11.2"/><rect x="544.9" y="247.9" width="11.2" height="11.2"/><rect x="553.1" y="246.4" width="11.2" height="11.2"/><rect x="560.9" y="243.3" width="11.2" height="11.2"/><rect x="566.5" y="239.6" width="11.2" height="11.2"/><rect x="574.4" y="236.7" width="11.2" height="11.2"/><rect x="582.6" y="234.0" width="11.2" height="11.2"/><rect x="588.1" y="232.7" width="11.2" height="11.2"/><rect x="596.3" y="230.0" width="11.2" height="11.2"/><rect x="604.2" y="227.3" width="11.2" height="11.2"/><rect x="609.4" y="225.2" width="11.2" height="11.2"/><rect x="617.9" y="222.7" width="11.2" height="11.2"/><rect x="625.8" y="220.9" width="11.2" height="11.2"/><rect x="631.0" y="220.4" width="11.2" height="11.2"/><rect x="639.4" y="218.1" width="11.2" height="11.2"/><rect x="647.5" y="217.2" width="11.2" height="11.2"/><rect x="652.6" y="216.3" width="11.2" height="11.2"/><rect x="660.8" y="214.2" width="11.2" height="11.2"/><rect x="669.2" y="212.4" width="11.2" height="11.2"/><rect x="674.5" y="211.8" width="11.2" height="11.2"/><rect x="682.7" y="209.1" width="11.2" height="11.2"/><rect x="690.6" y="208.2" width="11.2" height="11.2"/><rect x="696.0" y="206.6" width="11.2" height="11.2"/><rect x="703.9" y="204.4" width="11.2" height="11.2"/><rect x="711.9" y="202.9" width="11.2" height="11.2"/><rect x="717.7" y="201.7" width="11.2" height="11.2"/><rect x="725.9" y="201.0" width="11.2" height="11.2"/><rect x="733.7" y="199.8" width="11.2" height="11.2"/><rect x="739.2" y="198.5" width="11.2" height="11.2"/><rect x="747.3" y="197.6" width="11.2" height="11.2"/><rect x="755.5" y="195.8" width="11.2" height="11.2"/><rect x="760.6" y="196.3" width="11.2" height="11.2"/><rect x="768.6" y="195.9" width="11.2" height="11.2"/><rect x="776.8" y="194.9" width="11.2" height="11.2"/><rect x="782.7" y="195.2" width="11.2" height="11.2"/><rect x="790.4" y="194.9" width="11.2" height="11.2"/><rect x="798.5" y="194.7" width="11.2" height="11.2"/><rect x="804.2" y="193.6" width="11.2" height="11.2"/><rect x="812.2" y="193.7" width="11.2" height="11.2"/><rect x="820.5" y="193.4" width="11.2" height="11.2"/><rect x="825.8" y="192.8" width="11.2" height="11.2"/><rect x="833.9" y="192.7" width="11.2" height="11.2"/><rect x="841.9" y="192.0" width="11.2" height="11.2"/><rect x="847.1" y="191.9" width="11.2" height="11.2"/><rect x="855.4" y="191.2" width="11.2" height="11.2"/><rect x="863.6" y="190.9" width="11.2" height="11.2"/><rect x="868.5" y="190.7" width="11.2" height="11.2"/><rect x="877.2" y="190.5" width="11.2" height="11.2"/><rect x="884.8" y="190.5" width="11.2" height="11.2"/><rect x="890.1" y="189.9" width="11.2" height="11.2"/><rect x="898.6" y="190.5" width="11.2" height="11.2"/><rect x="906.7" y="190.4" width="11.2" height="11.2"/><rect x="912.1" y="189.5" width="11.2" height="11.2"/><rect x="920.3" y="189.7" width="11.2" height="11.2"/><rect x="928.4" y="190.1" width="11.2" height="11.2"/><rect x="933.8" y="189.1" width="11.2" height="11.2"/><rect x="942.0" y="190.0" width="11.2" height="11.2"/><rect x="949.6" y="188.8" width="11.2" height="11.2"/><rect x="954.9" y="188.5" width="11.2" height="11.2"/><rect x="963.5" y="189.1" width="11.2" height="11.2"/><rect x="971.6" y="188.6" width="11.2" height="11.2"/><rect x="976.7" y="188.3" width="11.2" height="11.2"/><rect x="984.7" y="187.4" width="11.2" height="11.2"/><rect x="992.8" y="187.9" width="11.2" height="11.2"/><rect x="998.4" y="187.4" width="11.2" height="11.2"/><polygon points="191.3,434.2 197.5,446.2 185.1,446.2"/><polygon points="199.4,433.1 205.6,445.1 193.2,445.1"/><polygon points="204.8,430.0 211.0,442.0 198.6,442.0"/><polygon points="212.9,429.2 219.1,441.2 206.7,441.2"/><polygon points="221.0,427.1 227.2,439.1 214.8,439.1"/><polygon points="226.4,426.7 232.6,438.7 220.2,438.7"/><polygon points="234.5,422.9 240.7,434.9 228.3,434.9"/><polygon points="242.6,420.1 248.8,432.1 236.4,432.1"/><polygon points="248.0,420.0 254.2,432.0 241.8,432.0"/><polygon points="256.1,415.5 262.3,427.5 249.9,427.5"/><polygon points="264.2,414.7 270.4,426.7 258.0,426.7"/><polygon points="269.6,412.1 275.8,424.1 263.4,424.1"/><polygon points="277.7,408.1 283.9,420.1 271.5,420.1"/><polygon points="285.8,408.0 292.0,420.0 279.6,420.0"/><polygon points="291.2,406.5 297.4,418.5 285.0,418.5"/><polygon points="299.3,406.2 305.5,418.2 293.1,418.2"/><polygon points="307.4,402.9 313.6,414.9 301.2,414.9"/><polygon points="312.8,402.7 319.0,414.7 306.6,414.7"/><polygon points="320.9,400.4 327.1,412.4 314.7,412.4"/><polygon points="329.0,397.5 335.2,409.5 322.8,409.5"/><polygon points="334.4,397.5 340.6,409.5 328.2,409.5"/><polygon points="342.5,395.3 348.7,407.3 336.3,407.3"/><polygon points="350.6,395.5 356.8,407.5 344.4,407.5"/><polygon points="356.0,394.1 362.2,406.1 349.8,406.1"/><polygon points="364.1,393.3 370.3,405.3 357.9,405.3"/><polygon points="372.2,392.9 378.4,404.9 366.0,404.9"/><polygon points="377.6,392.9 383.8,404.9 371.4,404.9"/><polygon points="385.7,392.8 391.9,404.8 379.5,404.8"/><polygon points="393.8,391.4 400.0,403.4 387.6,403.4"/><polygon points="399.2,391.7 405.4,403.7 393.0,403.7"/><polygon points="407.3,391.4 413.5,403.4 401.1,403.4"/><polygon points="415.4,391.5 421.6,403.5 409.2,403.5"/><polygon points="420.8,390.5 427.0,402.5 414.6,402.5"/><polygon points="428.9,390.5 435.1,402.5 422.7,402.5"/><polygon points="437.0,389.6 443.2,401.6 430.8,401.6"/><polygon points="442.4,389.2 448.6,401.2 436.2,401.2"/><polygon points="450.5,387.7 456.7,399.7 444.3,399.7"/><polygon points="458.6,387.6 464.8,399.6 452.4,399.6"/><polygon points="464.0,385.9 470.2,397.9 457.8,397.9"/><polygon points="472.1,384.4 478.3,396.4 465.9,396.4"/><polygon points="480.2,383.4 486.4,395.4 474.0,395.4"/><polygon points="485.6,380.8 491.8,392.8 479.4,392.8"/><polygon points="493.7,378.0 499.9,390.0 487.5,390.0"/><polygon points="501.8,375.9 508.0,387.9 495.6,387.9"/><polygon points="507.2,372.5 513.4,384.5 501.0,384.5"/><polygon points="515.3,371.5 521.5,383.5 509.1,383.5"/><polygon points="523.4,369.4 529.6,381.4 517.2,381.4"/><polygon points="528.8,367.0 535.0,379.0 522.6,379.0"/><polygon points="536.9,364.1 543.1,376.1 530.7,376.1"/><polygon points="545.0,361.2 551.2,373.2 538.8,373.2"/><polygon points="550.4,358.8 556.6,370.8 544.2,370.8"/><polygon points="558.5,356.4 564.7,368.4 552.3,368.4"/><polygon points="566.6,354.6 572.8,366.6 560.4,366.6"/><polygon points="572.0,351.2 578.2,363.2 565.8,363.2"/><polygon points="580.1,349.5 586.3,361.5 573.9,361.5"/><polygon points="588.2,345.0 594.4,357.0 582.0,357.0"/><polygon points="593.6,341.0 599.8,353.0 587.4,353.0"/><polygon points="601.7,338.8 607.9,350.8 595.5,350.8"/><polygon points="609.8,337.4 616.0,349.4 603.6,349.4"/><polygon points="615.2,334.7 621.4,346.7 609.0,346.7"/><polygon points="623.3,332.2 629.5,344.2 617.1,344.2"/><polygon points="631.4,330.6 637.6,342.6 625.2,342.6"/><polygon points="636.8,327.5 643.0,339.5 630.6,339.5"/><polygon points="644.9,325.6 651.1,337.6 638.7,337.6"/><polygon points="653.0,323.5 659.2,335.5 646.8,335.5"/><polygon points="658.4,322.1 664.6,334.1 652.2,334.1"/><polygon points="666.5,320.3 672.7,332.3 660.3,332.3"/><polygon points="674.6,318.5 680.8,330.5 668.4,330.5"/><polygon points="680.0,316.4 686.2,328.4 673.8,328.4"/><polygon points="688.1,314.6 694.3,326.6 681.9,326.6"/><polygon points="696.2,312.7 702.4,324.7 690.0,324.7"/><polygon points="701.6,311.8 707.8,323.8 695.4,323.8"/><polygon points="709.7,309.8 715.9,321.8 703.5,321.8"/><polygon points="717.8,308.1 724.0,320.1 711.6,320.1"/><polygon points="723.2,305.6 729.4,317.6 717.0,317.6"/><polygon points="731.3,304.1 737.5,316.1 725.1,316.1"/><polygon points="739.4,302.7 745.6,314.7 733.2,314.7"/><polygon points="744.8,301.7 751.0,313.7 738.6,313.7"/><polygon points="752.9,300.7 759.1,312.7 746.7,312.7"/><polygon points="761.0,300.6 767.2,312.6 754.8,312.6"/><polygon points="766.4,300.6 772.6,312.6 760.2,312.6"/><polygon points="774.5,298.9 780.7,310.9 768.3,310.9"/><polygon points="782.6,297.7 788.8,309.7 776.4,309.7"/><polygon points="788.0,296.6 794.2,308.6 781.8,308.6"/><polygon points="796.1,295.9 802.3,307.9 789.9,307.9"/><polygon points="804.2,295.1 810.4,307.1 798.0,307.1"/><polygon points="809.6,293.5 815.8,305.5 803.4,305.5"/><polygon points="817.7,292.8 823.9,304.8 811.5,304.8"/><polygon points="825.8,292.2 832.0,304.2 819.6,304.2"/><polygon points="831.2,291.6 837.4,303.6 825.0,303.6"/><polygon points="839.3,291.1 845.5,303.1 833.1,303.1"/><polygon points="847.4,289.9 853.6,301.9 841.2,301.9"/><polygon points="852.8,289.0 859.0,301.0 846.6,301.0"/><polygon points="860.9,287.2 867.1,299.2 854.7,299.2"/><polygon points="869.0,286.5 875.2,298.5 862.8,298.5"/><polygon points="874.4,284.6 880.6,296.6 868.2,296.6"/><polygon points="882.5,282.2 888.7,294.2 876.3,294.2"/><polygon points="890.6,281.7 896.8,293.7 884.4,293.7"/><polygon points="896.0,279.1 902.2,291.1 889.8,291.1"/><polygon points="904.1,277.9 910.3,289.9 897.9,289.9"/><polygon points="912.2,277.9 918.4,289.9 906.0,289.9"/><polygon points="917.6,277.0 923.8,289.0 911.4,289.0"/><polygon points="925.7,276.2 931.9,288.2 919.5,288.2"/><polygon points="933.8,274.6 940.0,286.6 927.6,286.6"/><polygon points="939.2,273.1 945.4,285.1 933.0,285.1"/><polygon points="947.3,272.4 953.5,284.4 941.1,284.4"/><polygon points="955.4,270.6 961.6,282.6 949.2,282.6"/><polygon points="960.8,268.6 967.0,280.6 954.6,280.6"/><polygon points="968.9,266.7 975.1,278.7 962.7,278.7"/><polygon points="977.0,263.7 983.2,275.7 970.8,275.7"/><polygon points="982.4,261.9 988.6,273.9 976.2,273.9"/><polygon points="990.5,258.8 996.7,270.8 984.3,270.8"/><polygon points="998.6,255.2 1004.8,267.2 992.4,267.2"/><polygon points="1004.0,253.0 1010.2,265.0 997.8,265.0"/><polygon points="185.1,439.9 197.5,439.9 191.3,451.9"/><polygon points="193.2,438.6 205.6,438.6 199.4,450.6"/><polygon points="198.6,436.0 211.0,436.0 204.8,448.0"/><polygon points="206.7,432.6 219.1,432.6 212.9,444.6"/><polygon points="214.8,431.9 227.2,431.9 221.0,443.9"/><polygon points="220.2,428.6 232.6,428.6 226.4,440.6"/><polygon points="228.3,427.4 240.7,427.4 234.5,439.4"/><polygon points="236.4,425.5 248.8,425.5 242.6,437.5"/><polygon points="241.8,420.9 254.2,420.9 248.0,432.9"/><polygon points="249.9,418.8 262.3,418.8 256.1,430.8"/><polygon points="258.0,417.2 270.4,417.2 264.2,429.2"/><polygon points="263.4,414.1 275.8,414.1 269.6,426.1"/><polygon points="271.5,411.5 283.9,411.5 277.7,423.5"/><polygon points="279.6,411.7 292.0,411.7 285.8,423.7"/><polygon points="285.0,410.8 297.4,410.8 291.2,422.8"/><polygon points="293.1,408.8 305.5,408.8 299.3,420.8"/><polygon points="301.2,407.1 313.6,407.1 307.4,419.1"/><polygon points="306.6,406.3 319.0,406.3 312.8,418.3"/><polygon points="314.7,404.3 327.1,404.3 320.9,416.3"/><polygon points="322.8,402.8 335.2,402.8 329.0,414.8"/><polygon points="328.2,400.8 340.6,400.8 334.4,412.8"/><polygon points="336.3,399.7 348.7,399.7 342.5,411.7"/><polygon points="344.4,399.9 356.8,399.9 350.6,411.9"/><polygon points="349.8,399.1 362.2,399.1 356.0,411.1"/><polygon points="357.9,399.3 370.3,399.3 364.1,411.3"/><polygon points="366.0,399.6 378.4,399.6 372.2,411.6"/><polygon points="371.4,399.3 383.8,399.3 377.6,411.3"/><polygon points="379.5,399.0 391.9,399.0 385.7,411.0"/><polygon points="387.6,398.4 400.0,398.4 393.8,410.4"/><polygon points="393.0,398.5 405.4,398.5 399.2,410.5"/><polygon points="401.1,398.4 413.5,398.4 407.3,410.4"/><polygon points="409.2,398.5 421.6,398.5 415.4,410.5"/><polygon points="414.6,398.1 427.0,398.1 420.8,410.1"/><polygon points="422.7,398.2 435.1,398.2 428.9,410.2"/><polygon points="430.8,398.0 443.2,398.0 437.0,410.0"/><polygon points="436.2,396.5 448.6,396.5 442.4,408.5"/><polygon points="444.3,396.5 456.7,396.5 450.5,408.5"/><polygon points="452.4,396.0 464.8,396.0 458.6,408.0"/><polygon points="457.8,395.0 470.2,395.0 464.0,407.0"/><polygon points="465.9,394.6 478.3,394.6 472.1,406.6"/><polygon points="474.0,394.6 486.4,394.6 480.2,406.6"/><polygon points="479.4,392.8 491.8,392.8 485.6,404.8"/><polygon points="487.5,392.7 499.9,392.7 493.7,404.7"/><polygon points="495.6,391.5 508.0,391.5 501.8,403.5"/><polygon points="501.0,391.5 513.4,391.5 507.2,403.5"/><polygon points="509.1,390.4 521.5,390.4 515.3,402.4"/><polygon points="517.2,388.2 529.6,388.2 523.4,400.2"/><polygon points="522.6,385.8 535.0,385.8 528.8,397.8"/><polygon points="530.7,383.4 543.1,383.4 536.9,395.4"/><polygon points="538.8,380.6 551.2,380.6 545.0,392.6"/><polygon points="544.2,378.9 556.6,378.9 550.4,390.9"/><polygon points="552.3,376.5 564.7,376.5 558.5,388.5"/><polygon points="560.4,374.0 572.8,374.0 566.6,386.0"/><polygon points="565.8,372.0 578.2,372.0 572.0,384.0"/><polygon points="573.9,369.3 586.3,369.3 580.1,381.3"/><polygon points="582.0,366.9 594.4,366.9 588.2,378.9"/><polygon points="587.4,365.3 599.8,365.3 593.6,377.3"/><polygon points="595.5,362.4 607.9,362.4 601.7,374.4"/><polygon points="603.6,362.0 616.0,362.0 609.8,374.0"/><polygon points="609.0,360.6 621.4,360.6 615.2,372.6"/><polygon points="617.1,360.1 629.5,360.1 623.3,372.1"/><polygon points="625.2,358.3 637.6,358.3 631.4,370.3"/><polygon points="630.6,358.3 643.0,358.3 636.8,370.3"/><polygon points="638.7,356.5 651.1,356.5 644.9,368.5"/><polygon points="646.8,355.3 659.2,355.3 653.0,367.3"/><polygon points="652.2,355.1 664.6,355.1 658.4,367.1"/><polygon points="660.3,354.7 672.7,354.7 666.5,366.7"/><polygon points="668.4,353.8 680.8,353.8 674.6,365.8"/><polygon points="673.8,353.7 686.2,353.7 680.0,365.7"/><polygon points="681.9,353.2 694.3,353.2 688.1,365.2"/><polygon points="690.0,353.1 702.4,353.1 696.2,365.1"/><polygon points="695.4,352.1 707.8,352.1 701.6,364.1"/><polygon points="703.5,351.2 715.9,351.2 709.7,363.2"/><polygon points="711.6,350.5 724.0,350.5 717.8,362.5"/><polygon points="717.0,350.4 729.4,350.4 723.2,362.4"/><polygon points="725.1,349.9 737.5,349.9 731.3,361.9"/><polygon points="733.2,348.7 745.6,348.7 739.4,360.7"/><polygon points="738.6,347.6 751.0,347.6 744.8,359.6"/><polygon points="746.7,347.6 759.1,347.6 752.9,359.6"/><polygon points="754.8,346.4 767.2,346.4 761.0,358.4"/><polygon points="760.2,345.6 772.6,345.6 766.4,357.6"/><polygon points="768.3,345.0 780.7,345.0 774.5,357.0"/><polygon points="776.4,345.2 788.8,345.2 782.6,357.2"/><polygon points="781.8,344.7 794.2,344.7 788.0,356.7"/><polygon points="789.9,344.0 802.3,344.0 796.1,356.0"/><polygon points="798.0,343.2 810.4,343.2 804.2,355.2"/><polygon points="803.4,342.8 815.8,342.8 809.6,354.8"/><polygon points="811.5,341.8 823.9,341.8 817.7,353.8"/><polygon points="819.6,342.0 832.0,342.0 825.8,354.0"/><polygon points="825.0,340.5 837.4,340.5 831.2,352.5"/><polygon points="833.1,340.1 845.5,340.1 839.3,352.1"/><polygon points="841.2,339.5 853.6,339.5 847.4,351.5"/><polygon points="846.6,338.8 859.0,338.8 852.8,350.8"/><polygon points="854.7,337.6 867.1,337.6 860.9,349.6"/><polygon points="862.8,336.0 875.2,336.0 869.0,348.0"/><polygon points="868.2,334.5 880.6,334.5 874.4,346.5"/><polygon points="876.3,331.8 888.7,331.8 882.5,343.8"/><polygon points="884.4,330.4 896.8,330.4 890.6,342.4"/><polygon points="889.8,327.4 902.2,327.4 896.0,339.4"/><polygon points="897.9,324.8 910.3,324.8 904.1,336.8"/><polygon points="906.0,320.9 918.4,320.9 912.2,332.9"/><polygon points="911.4,317.8 923.8,317.8 917.6,329.8"/><polygon points="919.5,313.5 931.9,313.5 925.7,325.5"/><polygon points="927.6,309.3 940.0,309.3 933.8,321.3"/><polygon points="933.0,293.5 945.4,293.5 939.2,305.5"/><polygon points="941.1,284.3 953.5,284.3 947.3,296.3"/><polygon points="949.2,281.6 961.6,281.6 955.4,293.6"/><polygon points="954.6,278.1 967.0,278.1 960.8,290.1"/><polygon points="962.7,275.1 975.1,275.1 968.9,287.1"/><polygon points="970.8,272.4 983.2,272.4 977.0,284.4"/><polygon points="976.2,270.2 988.6,270.2 982.4,282.2"/><polygon points="984.3,267.7 996.7,267.7 990.5,279.7"/><polygon points="992.4,265.0 1004.8,265.0 998.6,277.0"/><polygon points="997.8,262.0 1010.2,262.0 1004.0,274.0"/></g>
<g font-family="Liberation Sans, sans-serif" font-weight="bold" font-size="20.8" fill="#000" text-rendering="geometricPrecision"><text transform="translate(99.8,586.55) scale(0.937,1)" text-anchor="end">0.01000</text><text transform="translate(99.8,492.20) scale(0.937,1)" text-anchor="end">0.1000</text><text transform="translate(99.8,397.85) scale(0.937,1)" text-anchor="end">1.000</text><text transform="translate(99.8,303.50) scale(0.937,1)" text-anchor="end">10.00</text><text transform="translate(99.8,209.15) scale(0.937,1)" text-anchor="end">100.0</text><text transform="translate(99.8,114.80) scale(0.937,1)" text-anchor="end">1000</text><text transform="translate(99.8,20.45) scale(0.937,1)" text-anchor="end">10000</text><text transform="translate(116.90,609.8) scale(0.937,1)" text-anchor="middle">10.0</text><text transform="translate(264.57,609.8) scale(0.937,1)" text-anchor="middle">20.0</text><text transform="translate(412.23,609.8) scale(0.937,1)" text-anchor="middle">30.0</text><text transform="translate(559.90,609.8) scale(0.937,1)" text-anchor="middle">40.0</text><text transform="translate(707.57,609.8) scale(0.937,1)" text-anchor="middle">50.0</text><text transform="translate(855.23,609.8) scale(0.937,1)" text-anchor="middle">60.0</text><text transform="translate(1002.90,609.8) scale(0.937,1)" text-anchor="middle">70.0</text></g>
<text transform="translate(555.6,633.1) scale(0.955,1)" text-anchor="middle" font-family="Liberation Sans, sans-serif" font-weight="bold" font-size="20" text-rendering="geometricPrecision">temperature (°C)</text>
<text transform="translate(19.9,297.7) rotate(-90)" text-anchor="middle" font-family="Liberation Sans, sans-serif" font-weight="bold" font-size="20.2" text-rendering="geometricPrecision">G' (Pa)</text>
<defs><clipPath id="lc"><rect x="662" y="386.3" width="140" height="173.7"/></clipPath></defs><rect x="662" y="386.3" width="141" height="173.7" fill="#fff"/><g clip-path="url(#lc)"><g fill="#000"><circle cx="679.6" cy="400.3" r="7.0"/></g><text x="692.4" y="406.1" font-family="Liberation Sans, sans-serif" font-weight="bold" font-size="17.2" letter-spacing="0.15" text-rendering="geometricPrecision">Mecell initial</text><g fill="#000"><rect x="673.0" y="414.9" width="12.6" height="12.6"/></g><text x="692.4" y="427.0" font-family="Liberation Sans, sans-serif" font-weight="bold" font-size="17.2" letter-spacing="0.15" text-rendering="geometricPrecision">ME 10</text><g fill="#000"><polygon points="679.6,435.2 686.6,448.8 672.6,448.8"/></g><text x="692.4" y="447.8" font-family="Liberation Sans, sans-serif" font-weight="bold" font-size="17.2" letter-spacing="0.15" text-rendering="geometricPrecision">ME 25</text><g fill="#000"><polygon points="672.6,456.1 686.6,456.1 679.6,469.7"/></g><text x="692.4" y="468.7" font-family="Liberation Sans, sans-serif" font-weight="bold" font-size="17.2" letter-spacing="0.15" text-rendering="geometricPrecision">ME 50</text><g fill="none" stroke="#000" stroke-width="1.4"><circle cx="679.6" cy="483.7" r="6.30"/></g><text x="692.4" y="489.5" font-family="Liberation Sans, sans-serif" font-weight="bold" font-size="17.2" letter-spacing="0.15" text-rendering="geometricPrecision">Mecell initial2</text><g fill="none" stroke="#000" stroke-width="1.4"><rect x="673.7" y="499.0" width="11.2" height="11.2"/></g><text x="692.4" y="510.4" font-family="Liberation Sans, sans-serif" font-weight="bold" font-size="17.2" letter-spacing="0.15" text-rendering="geometricPrecision">ME 10</text><g fill="none" stroke="#000" stroke-width="1.4"><polygon points="679.6,519.5 685.8,531.5 673.4,531.5"/></g><text x="692.4" y="531.3" font-family="Liberation Sans, sans-serif" font-weight="bold" font-size="17.2" letter-spacing="0.15" text-rendering="geometricPrecision">ME 25</text><g fill="none" stroke="#000" stroke-width="1.4"><polygon points="673.4,540.3 685.8,540.3 679.6,552.3"/></g><text x="692.4" y="552.1" font-family="Liberation Sans, sans-serif" font-weight="bold" font-size="17.2" letter-spacing="0.15" text-rendering="geometricPrecision">ME 50</text></g><rect x="662" y="386.3" width="141" height="173.7" fill="none" stroke="#000" stroke-width="2"/>
</svg>
</body></html>
